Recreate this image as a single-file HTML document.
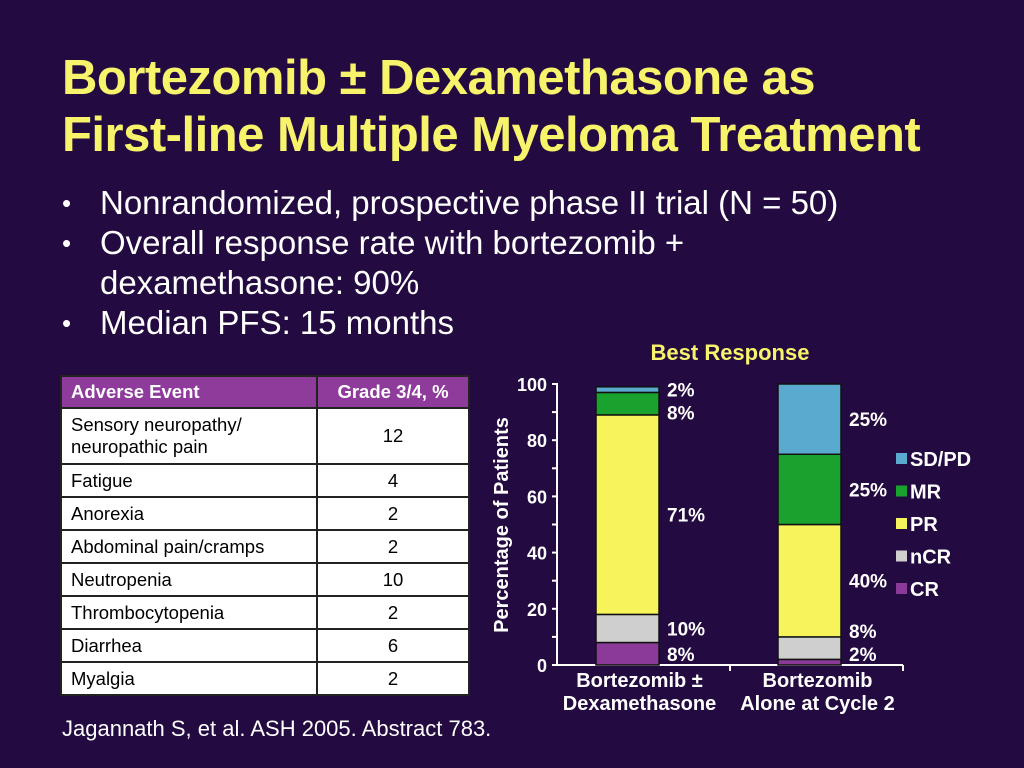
<!DOCTYPE html>
<html><head><meta charset="utf-8"><style>
body{margin:0;width:1024px;height:768px;background:#230a40;overflow:hidden;font-family:"Liberation Sans",Arial,sans-serif;position:relative}
.t{position:absolute;left:62px;top:50px;color:#f7f36a;font-weight:bold;font-size:49px;line-height:57px;margin:0;letter-spacing:-0.5px}
ul{position:absolute;left:62px;top:183px;margin:0;padding:0;list-style:none;color:#fff;font-size:33px;line-height:40px}
li{position:relative;padding-left:38px}
li:before{content:"•";position:absolute;left:0;font-size:26px}
table{position:absolute;left:60px;top:375px;width:410px;border-collapse:collapse;background:#fff;font-size:18.5px}
td,th{border:2px solid #222;padding:0 9px;height:31px}
th{background:#8e3b9c;color:#fff;text-align:left;font-weight:bold;height:30px}
th+th,td+td{text-align:center;width:132px}
.src{position:absolute;left:62px;top:716px;color:#fff;font-size:22px}
</style></head><body>
<h1 class="t">Bortezomib ± Dexamethasone as<br>First-line Multiple Myeloma Treatment</h1>
<ul>
<li>Nonrandomized, prospective phase II trial (N = 50)</li>
<li>Overall response rate with bortezomib +<br>dexamethasone: 90%</li>
<li>Median PFS: 15 months</li>
</ul>
<table>
<tr><th>Adverse Event</th><th>Grade 3/4, %</th></tr>
<tr style="height:56px"><td style="line-height:22px">Sensory neuropathy/<br>neuropathic pain</td><td>12</td></tr>
<tr><td>Fatigue</td><td>4</td></tr>
<tr><td>Anorexia</td><td>2</td></tr>
<tr><td>Abdominal pain/cramps</td><td>2</td></tr>
<tr><td>Neutropenia</td><td>10</td></tr>
<tr><td>Thrombocytopenia</td><td>2</td></tr>
<tr><td>Diarrhea</td><td>6</td></tr>
<tr><td>Myalgia</td><td>2</td></tr>
</table>
<div class="src">Jagannath S, et al. ASH 2005. Abstract 783.</div>
<svg id="c" width="1024" height="768" style="position:absolute;left:0;top:0"></svg>
<script>
const categories=[["Bortezomib ±","Dexamethasone"],["Bortezomib","Alone at Cycle 2"]];
const seriesNames=["CR","nCR","PR","MR","SD/PD"];
const seriesColors=["#8b3a9a","#cfcfcf","#f7f35a","#1aa22e","#5aaad0"];
const valuesBar1=[8,10,71,8,2];
const valuesBar2=[2,8,40,25,25];
const yTicks=[0,20,40,60,80,100];
const values=[valuesBar1,valuesBar2];
const svg=document.getElementById('c');
const NS="http://www.w3.org/2000/svg";
const x0=557,x1=903,y0=665,y1=384;
const Y=v=>y0-(v/100)*(y0-y1);
const barX=i=>596+i*182, bw=63;
function mk(t,a,txt){const e=document.createElementNS(NS,t);for(const k in a)e.setAttribute(k,a[k]);if(txt!=null)e.textContent=txt;svg.appendChild(e);return e;}
let e=mk('text',{x:730,y:360,fill:'#f7f36a','font-size':22,'font-weight':'bold','text-anchor':'middle'},'Best Response');


e=mk('line',{x1:x0,y1:y1-1,x2:x0,y2:y0+1,stroke:'#fff','stroke-width':2});


e=mk('line',{x1:x0,y1:y0,x2:x1,y2:y0,stroke:'#fff','stroke-width':2});


[x0+(x1-x0)/2,x1].forEach(x=>{e=mk('line',{x1:x,y1:y0,x2:x,y2:y0+6,stroke:'#fff','stroke-width':2});

});
for(let v=0;v<=100;v+=10){e=mk('line',{x1:x0-5,y1:Y(v),x2:x0,y2:Y(v),stroke:'#fff','stroke-width':2});

}
yTicks.forEach(v=>{e=mk('text',{x:x0-10,y:Y(v)+7,fill:'#fff','font-size':18,'font-weight':'bold','text-anchor':'end'},String(v));

});
e=mk('text',{transform:'translate(508,525) rotate(-90)',fill:'#fff','font-size':20,'font-weight':'bold','text-anchor':'middle'},'Percentage of Patients');


values.forEach((vals,i)=>{
 let cum=0;const mids=[];
 vals.forEach((v,s)=>{
  const r=mk('rect',{x:barX(i),y:Y(cum+v),width:bw,height:Y(cum)-Y(cum+v),fill:seriesColors[s],stroke:'#111','stroke-width':1.5});
  
  
  mids.push(Y(cum+v/2)+7);cum+=v;});
 for(let s=mids.length-2;s>=0;s--) if(mids[s]<mids[s+1]+23) mids[s]=mids[s+1]+23;
 for(let s=0;s<mids.length;s++) if(mids[s]>y0-4) mids[s]=y0-4;
 for(let s=1;s<mids.length;s++) if(mids[s]>mids[s-1]-23) mids[s]=mids[s-1]-23;
 vals.forEach((v,s)=>{const t=mk('text',{x:barX(i)+bw+8,y:mids[s],fill:'#fff','font-size':19,'font-weight':'bold'},v+'%');
  
  });
 categories[i].forEach((ln,k)=>{const t=mk('text',{x:barX(i)+bw/2+(i?8:12),y:687+k*23,fill:'#fff','font-size':20,'font-weight':'bold','text-anchor':'middle'},ln);
  
  });
});
for(let s=seriesNames.length-1,k=0;s>=0;s--,k++){
 const ly=453+k*32.5;
 const r=mk('rect',{x:896,y:ly,width:11,height:11,fill:seriesColors[s]});
 
 
 const t=mk('text',{x:910,y:ly+13,fill:'#fff','font-size':20,'font-weight':'bold'},seriesNames[s]);
 
 
}
</script>
</body></html>
